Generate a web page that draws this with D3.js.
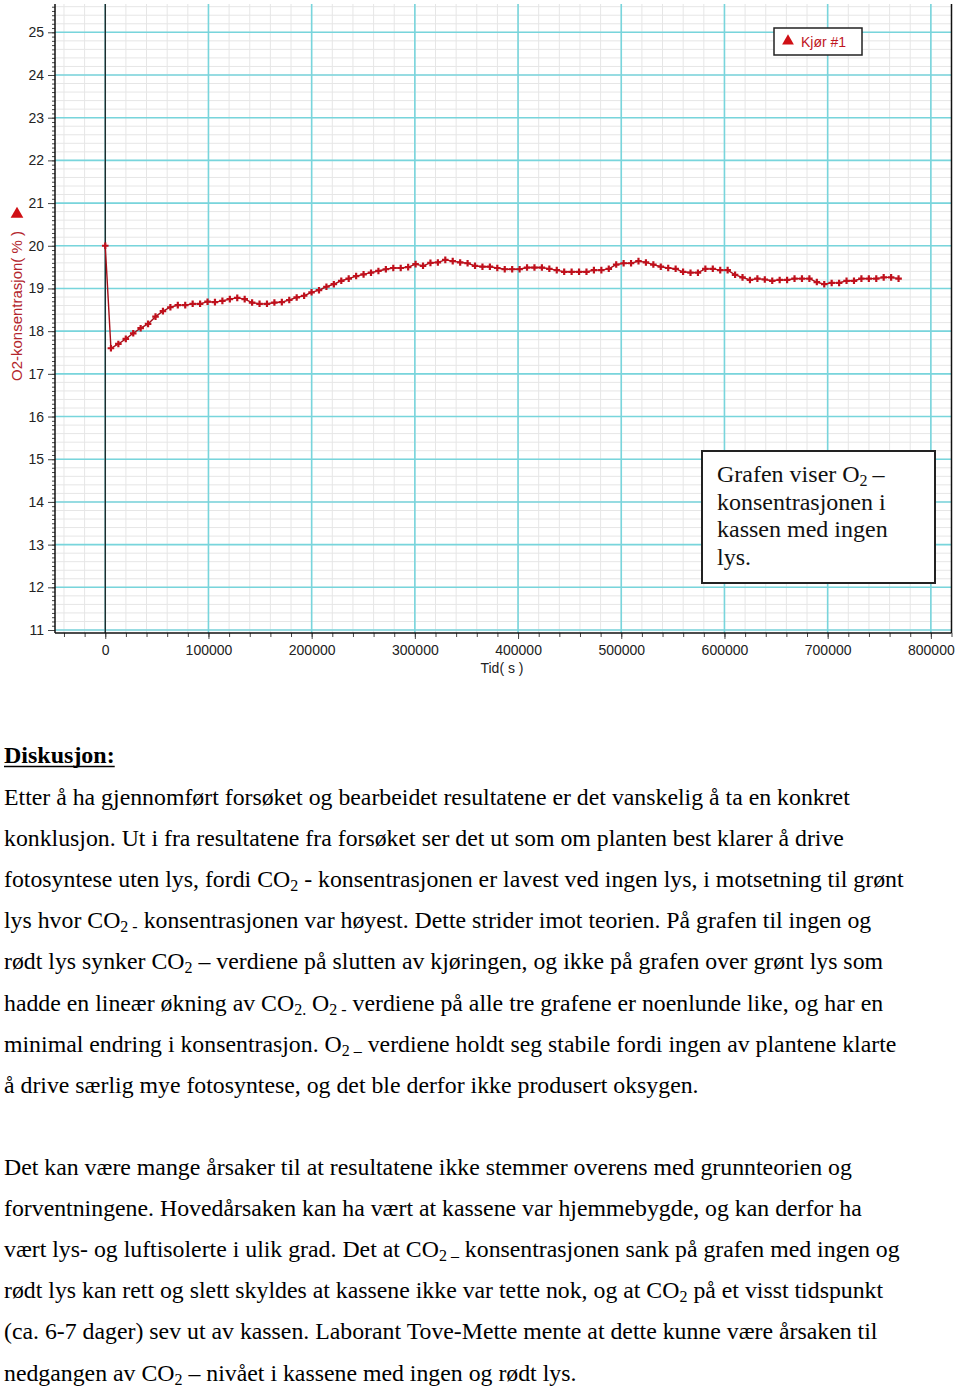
<!DOCTYPE html>
<html>
<head>
<meta charset="utf-8">
<script src="https://cdn.jsdelivr.net/npm/d3@7"></script>
<style>
  body { margin: 0; background: #fff; }
</style>
</head>
<body>
<div id="chart"></div>
<script>
//Data (time in seconds, O2 in %)
const timeSec = [0, 5500, 12700, 19900, 27100, 34300, 41500, 48700, 55900, 63100,
  70300, 77500, 84700, 91900, 99100, 106300, 113500, 120700, 127900, 135100,
  142300, 149500, 156700, 163900, 171100, 178300, 185500, 192700, 199900, 207100,
  214300, 221500, 228700, 235900, 243100, 250300, 257500, 264700, 271900, 279100,
  286300, 293500, 300700, 307900, 315100, 322300, 329500, 336700, 343900, 351100,
  358300, 365500, 372700, 379900, 387100, 394300, 401500, 408700, 415900, 423100,
  430300, 437500, 444700, 451900, 459100, 466300, 473500, 480700, 487900, 495100,
  502300, 509500, 516700, 523900, 531100, 538300, 545500, 552700, 559900, 567100,
  574300, 581500, 588700, 595900, 603100, 610300, 617500, 624700, 631900, 639100,
  646300, 653500, 660700, 667900, 675100, 682300, 689500, 696700, 703900, 711100,
  718300, 725500, 732700, 739900, 747100, 754300, 761500, 768700];
const o2Percent = [20.00, 17.60, 17.70, 17.82, 17.95, 18.07, 18.17, 18.34, 18.47, 18.56,
  18.61, 18.61, 18.64, 18.64, 18.69, 18.68, 18.71, 18.75, 18.78, 18.75,
  18.67, 18.64, 18.64, 18.67, 18.68, 18.73, 18.79, 18.83, 18.91, 18.96,
  19.04, 19.10, 19.18, 19.23, 19.29, 19.33, 19.37, 19.41, 19.45, 19.48,
  19.48, 19.50, 19.57, 19.53, 19.60, 19.61, 19.67, 19.64, 19.61, 19.59,
  19.53, 19.51, 19.51, 19.48, 19.45, 19.45, 19.45, 19.49, 19.49, 19.49,
  19.46, 19.43, 19.39, 19.39, 19.39, 19.39, 19.43, 19.43, 19.46, 19.56,
  19.59, 19.59, 19.64, 19.61, 19.56, 19.51, 19.48, 19.46, 19.39, 19.37,
  19.37, 19.46, 19.46, 19.43, 19.43, 19.32, 19.26, 19.20, 19.23, 19.21,
  19.18, 19.20, 19.20, 19.23, 19.23, 19.23, 19.15, 19.10, 19.13, 19.13,
  19.18, 19.18, 19.23, 19.23, 19.23, 19.26, 19.26, 19.23];

const xTicks = [0, 100000, 200000, 300000, 400000, 500000, 600000, 700000, 800000];
const yTicks = [11, 12, 13, 14, 15, 16, 17, 18, 19, 20, 21, 22, 23, 24, 25];

const seriesName = "Kjør #1";
const xLabel = "Tid( s )";
const yLabel = "O2-konsentrasjon( % )";
const noteLines = ["Grafen viser O_{2}\u2009–", "konsentrasjonen i", "kassen med ingen", "lys."];

const heading = "Diskusjon:";
const para1 = [
  "Etter å ha gjennomført forsøket og bearbeidet resultatene er det vanskelig å ta en konkret",
  "konklusjon. Ut i fra resultatene fra forsøket ser det ut som om planten best klarer å drive",
  "fotosyntese uten lys, fordi CO_{2} - konsentrasjonen er lavest ved ingen lys, i motsetning til grønt",
  "lys hvor CO_{2 -} konsentrasjonen var høyest. Dette strider imot teorien. På grafen til ingen og",
  "rødt lys synker CO_{2} – verdiene på slutten av kjøringen, og ikke på grafen over grønt lys som",
  "hadde en lineær økning av CO_{2.} O_{2 -} verdiene på alle tre grafene er noenlunde like, og har en",
  "minimal endring i konsentrasjon. O_{2 –} verdiene holdt seg stabile fordi ingen av plantene klarte",
  "å drive særlig mye fotosyntese, og det ble derfor ikke produsert oksygen."
];
const para2 = [
  "Det kan være mange årsaker til at resultatene ikke stemmer overens med grunnteorien og",
  "forventningene. Hovedårsaken kan ha vært at kassene var hjemmebygde, og kan derfor ha",
  "vært lys- og luftisolerte i ulik grad. Det at CO_{2 –} konsentrasjonen sank på grafen med ingen og",
  "rødt lys kan rett og slett skyldes at kassene ikke var tette nok, og at CO_{2} på et visst tidspunkt",
  "(ca. 6-7 dager) sev ut av kassen. Laborant Tove-Mette mente at dette kunne være årsaken til",
  "nedgangen av CO_{2} – nivået i kassene med ingen og rødt lys."
];

const data = timeSec.map((t, i) => ({ t: t, v: o2Percent[i] }));

//dimensions
const width = 960;
const height = 1387;
const plot = { left: 55, right: 951.5, top: 4, bottom: 633 };
const gridColor = "#78d5dc";
const lineColor = "#a8101a";
const labelFont = "'Liberation Sans', Arial, sans-serif";
const serif = "'Liberation Serif', 'Times New Roman', serif";

const svg = d3.select("#chart").append("svg").attr("width", width).attr("height", height);

//scales
const xscale = d3.scaleLinear().domain([-48700, 820000]).range([plot.left, plot.right]);
const yscale = d3.scaleLinear().domain([10.93, 25.663]).range([plot.bottom, plot.top]);

//minor grid
const xMinor = d3.range(-40000, 820001, 20000);
const yMinor = d3.range(11, 25.61, 0.2);
svg.append("g").selectAll("line").data(xMinor).enter().append("line")
  .attr("x1", d => xscale(d)).attr("x2", d => xscale(d))
  .attr("y1", plot.top).attr("y2", plot.bottom)
  .attr("stroke", "#e6e6e6").attr("stroke-width", 1);
svg.append("g").selectAll("line").data(yMinor).enter().append("line")
  .attr("x1", plot.left).attr("x2", plot.right)
  .attr("y1", d => yscale(d)).attr("y2", d => yscale(d))
  .attr("stroke", "#e6e6e6").attr("stroke-width", 1);

//major grid
svg.append("g").selectAll("line").data(xTicks).enter().append("line")
  .attr("x1", d => xscale(d)).attr("x2", d => xscale(d))
  .attr("y1", plot.top).attr("y2", plot.bottom)
  .attr("stroke", gridColor).attr("stroke-width", 1.6);
svg.append("g").selectAll("line").data(yTicks).enter().append("line")
  .attr("x1", plot.left).attr("x2", plot.right)
  .attr("y1", d => yscale(d)).attr("y2", d => yscale(d))
  .attr("stroke", gridColor).attr("stroke-width", 1.6);

//zero line and frame
svg.append("line").attr("x1", xscale(0)).attr("x2", xscale(0)).attr("y1", plot.top).attr("y2", plot.bottom)
  .attr("stroke", "#111").attr("stroke-width", 1.2);
svg.append("line").attr("x1", plot.right).attr("x2", plot.right).attr("y1", plot.top).attr("y2", plot.bottom)
  .attr("stroke", "#111").attr("stroke-width", 1.5);

//axes
const yAxis = d3.axisLeft(yscale).tickValues(yTicks).tickSize(7).tickPadding(4).tickFormat(d3.format("d"));
const yAxisMinor = d3.axisLeft(yscale).tickValues(d3.range(11, 25.61, 0.1)).tickSize(3).tickFormat("");
const xAxis = d3.axisBottom(xscale).tickValues(xTicks).tickSize(6).tickPadding(6).tickFormat(d3.format("d"));
const xAxisMinor = d3.axisBottom(xscale).tickValues(xMinor).tickSize(4).tickFormat("");

const gy = svg.append("g").attr("transform", `translate(${plot.left},0)`).call(yAxis);
svg.append("g").attr("transform", `translate(${plot.left},0)`).call(yAxisMinor);
const gx = svg.append("g").attr("transform", `translate(0,${plot.bottom})`).call(xAxis);
svg.append("g").attr("transform", `translate(0,${plot.bottom})`).call(xAxisMinor);
svg.selectAll(".domain").remove();
svg.selectAll(".tick line").attr("stroke", "#444");
[gx, gy].forEach(g => g.selectAll("text").style("font-family", labelFont).style("font-size", "14px").attr("fill", "#222"));

svg.append("line").attr("x1", plot.left).attr("x2", plot.left).attr("y1", plot.top).attr("y2", plot.bottom)
  .attr("stroke", "#111").attr("stroke-width", 1.5);
svg.append("line").attr("x1", plot.left).attr("x2", plot.right).attr("y1", plot.bottom).attr("y2", plot.bottom)
  .attr("stroke", "#111").attr("stroke-width", 1.5);

//axis titles
svg.append("text").attr("x", 502).attr("y", 673).attr("text-anchor", "middle")
  .style("font-family", labelFont).style("font-size", "14px").attr("fill", "#222").text(xLabel);
svg.append("text").attr("transform", "translate(22,306) rotate(-90)").attr("text-anchor", "middle")
  .style("font-family", labelFont).style("font-size", "15px").attr("fill", "#b3262c").text(yLabel);
svg.append("path").attr("d", d3.symbol(d3.symbolTriangle, 70)()).attr("transform", "translate(17,214)")
  .attr("fill", "#d01015");

//series
const line = d3.line().x(d => xscale(d.t)).y(d => yscale(d.v));
svg.append("path").datum(data).attr("d", line).attr("fill", "none")
  .attr("stroke", lineColor).attr("stroke-width", 1.4);
svg.append("g").selectAll("path").data(data).enter().append("path")
  .attr("d", d3.symbol(d3.symbolCross, 24)())
  .attr("transform", d => `translate(${xscale(d.t)},${yscale(d.v)})`)
  .attr("fill", "#c0101c");

//legend
const legend = svg.append("g").attr("transform", "translate(774,28)");
legend.append("rect").attr("width", 88).attr("height", 27).attr("fill", "#fff")
  .attr("stroke", "#222").attr("stroke-width", 1.5);
legend.append("path").attr("d", d3.symbol(d3.symbolTriangle, 60)()).attr("transform", "translate(14,13)")
  .attr("fill", "#d01015");
legend.append("text").attr("x", 27).attr("y", 19).style("font-family", labelFont).style("font-size", "14px")
  .attr("fill", "#c0161e").text(seriesName);

//text with subscripts written as _{...}
function richText(sel, str, size, subSize, shift) {
  let back = 0;
  str.split(/(_\{[^}]*\})/).forEach(part => {
    if (!part) return;
    if (part.startsWith("_{")) {
      sel.append("tspan").attr("dy", shift).style("font-size", subSize + "px").text(part.slice(2, -1));
      back = -shift;
    } else {
      sel.append("tspan").attr("dy", back).style("font-size", size + "px").text(part);
      back = 0;
    }
  });
}

//note box
svg.append("rect").attr("x", 702).attr("y", 451).attr("width", 233).attr("height", 132)
  .attr("fill", "#fff").attr("stroke", "#222").attr("stroke-width", 2);
noteLines.forEach((s, i) => {
  const t = svg.append("text").attr("x", 717).attr("y", 482 + i * 27.6)
    .style("font-family", serif).attr("fill", "#111");
  richText(t, s, 24, 16, 4);
});

//discussion
const h = svg.append("text").attr("x", 4).attr("y", 763).style("font-family", serif)
  .style("font-size", "24px").style("font-weight", "bold").attr("fill", "#000").text(heading);
const hw = h.node().getComputedTextLength();
svg.append("line").attr("x1", 4).attr("x2", 4 + hw).attr("y1", 766.5).attr("y2", 766.5)
  .attr("stroke", "#000").attr("stroke-width", 1.6);

para1.forEach((s, i) => {
  const t = svg.append("text").attr("x", 4).attr("y", 805 + i * 41.1).style("font-family", serif).attr("fill", "#000");
  richText(t, s, 23.8, 16, 4);
});
para2.forEach((s, i) => {
  const t = svg.append("text").attr("x", 4).attr("y", 1175 + i * 41.1).style("font-family", serif).attr("fill", "#000");
  richText(t, s, 23.8, 16, 4);
});
</script>
</body>
</html>
